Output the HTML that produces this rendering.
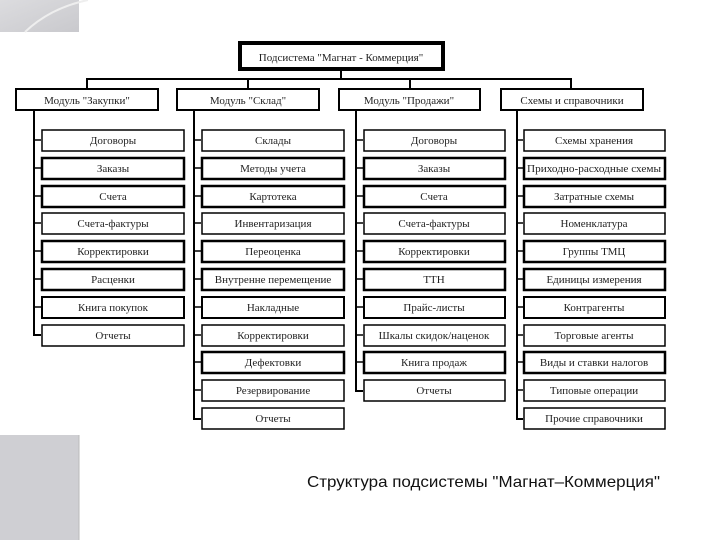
<!DOCTYPE html>
<html><head><meta charset="utf-8"><style>
html,body{margin:0;padding:0;background:#fff;width:720px;height:540px;overflow:hidden}
svg text{font-family:"Liberation Serif","Noto Serif CJK SC",serif;font-size:11px;fill:#222}
</style></head><body>
<svg width="720" height="540" viewBox="0 0 720 540" xmlns="http://www.w3.org/2000/svg">
<defs><linearGradient id="g" x1="0" y1="0" x2="1" y2="1"><stop offset="0" stop-color="#dcdcdf"/><stop offset="1" stop-color="#c9c9cd"/></linearGradient></defs>
<rect x="0" y="0" width="79" height="32" fill="url(#g)"/>
<path d="M25 32 Q50 8 88 0" stroke="#eee" stroke-width="2" fill="none"/>
<rect x="0" y="435" width="79" height="105" fill="#cfcfd3"/>
<line x1="79" y1="435" x2="79" y2="540" stroke="#bbb" stroke-width="1"/>

<g stroke="#000" fill="none">
<rect x="240" y="43" width="203" height="26" stroke-width="4" fill="#fff"/>
<line x1="341" y1="70" x2="341" y2="79" stroke-width="2"/>
<line x1="86" y1="79" x2="572" y2="79" stroke-width="2"/>
<line x1="87" y1="79" x2="87" y2="89" stroke-width="2"/>
<line x1="248" y1="79" x2="248" y2="89" stroke-width="2"/>
<line x1="410" y1="79" x2="410" y2="89" stroke-width="2"/>
<line x1="571" y1="79" x2="571" y2="89" stroke-width="2"/>
<g stroke-width="2" fill="#fff">
<rect x="16" y="89" width="142" height="21"/>
<rect x="177" y="89" width="142" height="21"/>
<rect x="339" y="89" width="141" height="21"/>
<rect x="501" y="89" width="142" height="21"/>
</g>
<g stroke-width="2">
<polyline points="34,110 34,335 41,335"/>
<polyline points="194,110 194,419 201,419"/>
<polyline points="356,110 356,391 363,391"/>
<polyline points="517,110 517,419 523,419"/>
</g>
<g stroke-width="1.5">
<path d="M34 140h7M34 168h7M34 196h7M34 223h7M34 251h7M34 279h7M34 307h7"/>
<path d="M194 140h7M194 168h7M194 196h7M194 223h7M194 251h7M194 279h7M194 307h7M194 335h7M194 362h7M194 390h7"/>
<path d="M356 140h7M356 168h7M356 196h7M356 223h7M356 251h7M356 279h7M356 307h7M356 335h7M356 362h7"/>
<path d="M517 140h6M517 168h6M517 196h6M517 223h6M517 251h6M517 279h6M517 307h6M517 335h6M517 362h6M517 390h6"/>
</g>
<g fill="#fff">
<!-- col1 -->
<rect x="42" y="130" width="142" height="21" stroke-width="1.5"/>
<rect x="42" y="158" width="142" height="21" stroke-width="2.5"/>
<rect x="42" y="186" width="142" height="21" stroke-width="2.5"/>
<rect x="42" y="213" width="142" height="21" stroke-width="1.5"/>
<rect x="42" y="241" width="142" height="21" stroke-width="2.5"/>
<rect x="42" y="269" width="142" height="21" stroke-width="2.5"/>
<rect x="42" y="297" width="142" height="21" stroke-width="2"/>
<rect x="42" y="325" width="142" height="21" stroke-width="1.5"/>
<!-- col2 -->
<rect x="202" y="130" width="142" height="21" stroke-width="1.5"/>
<rect x="202" y="158" width="142" height="21" stroke-width="2.5"/>
<rect x="202" y="186" width="142" height="21" stroke-width="2.5"/>
<rect x="202" y="213" width="142" height="21" stroke-width="1.5"/>
<rect x="202" y="241" width="142" height="21" stroke-width="2.5"/>
<rect x="202" y="269" width="142" height="21" stroke-width="2.5"/>
<rect x="202" y="297" width="142" height="21" stroke-width="2"/>
<rect x="202" y="325" width="142" height="21" stroke-width="1.5"/>
<rect x="202" y="352" width="142" height="21" stroke-width="2.5"/>
<rect x="202" y="380" width="142" height="21" stroke-width="1.5"/>
<rect x="202" y="408" width="142" height="21" stroke-width="1.5"/>
<!-- col3 -->
<rect x="364" y="130" width="141" height="21" stroke-width="1.5"/>
<rect x="364" y="158" width="141" height="21" stroke-width="2.5"/>
<rect x="364" y="186" width="141" height="21" stroke-width="2.5"/>
<rect x="364" y="213" width="141" height="21" stroke-width="1.5"/>
<rect x="364" y="241" width="141" height="21" stroke-width="2.5"/>
<rect x="364" y="269" width="141" height="21" stroke-width="2.5"/>
<rect x="364" y="297" width="141" height="21" stroke-width="2"/>
<rect x="364" y="325" width="141" height="21" stroke-width="1.5"/>
<rect x="364" y="352" width="141" height="21" stroke-width="2.5"/>
<rect x="364" y="380" width="141" height="21" stroke-width="1.5"/>
<!-- col4 -->
<rect x="524" y="130" width="141" height="21" stroke-width="1.5"/>
<rect x="524" y="158" width="141" height="21" stroke-width="2.5"/>
<rect x="524" y="186" width="141" height="21" stroke-width="2.5"/>
<rect x="524" y="213" width="141" height="21" stroke-width="1.5"/>
<rect x="524" y="241" width="141" height="21" stroke-width="2.5"/>
<rect x="524" y="269" width="141" height="21" stroke-width="2.5"/>
<rect x="524" y="297" width="141" height="21" stroke-width="2"/>
<rect x="524" y="325" width="141" height="21" stroke-width="1.5"/>
<rect x="524" y="352" width="141" height="21" stroke-width="2.5"/>
<rect x="524" y="380" width="141" height="21" stroke-width="1.5"/>
<rect x="524" y="408" width="141" height="21" stroke-width="1.5"/>
</g>
</g>

<g text-anchor="middle">
<text x="341" y="61" font-size="12">Подсистема "Магнат - Коммерция"</text>
<text x="87" y="104" font-size="12">Модуль "Закупки"</text>
<text x="248" y="104" font-size="12">Модуль "Склад"</text>
<text x="409" y="104" font-size="12">Модуль "Продажи"</text>
<text x="572" y="104" font-size="12">Схемы и справочники</text>

<g transform="translate(113,0)">
<text y="144">Договоры</text><text y="172">Заказы</text><text y="200">Счета</text><text y="227">Счета-фактуры</text><text y="255">Корректировки</text><text y="283">Расценки</text><text y="311">Книга покупок</text><text y="339">Отчеты</text>
</g>
<g transform="translate(273,0)">
<text y="144">Склады</text><text y="172">Методы учета</text><text y="200">Картотека</text><text y="227">Инвентаризация</text><text y="255">Переоценка</text><text y="283">Внутренне перемещение</text><text y="311">Накладные</text><text y="339">Корректировки</text><text y="366">Дефектовки</text><text y="394">Резервирование</text><text y="422">Отчеты</text>
</g>
<g transform="translate(434,0)">
<text y="144">Договоры</text><text y="172">Заказы</text><text y="200">Счета</text><text y="227">Счета-фактуры</text><text y="255">Корректировки</text><text y="283">ТТН</text><text y="311">Прайс-листы</text><text y="339">Шкалы скидок/наценок</text><text y="366">Книга продаж</text><text y="394">Отчеты</text>
</g>
<g transform="translate(594,0)">
<text y="144">Схемы хранения</text><text y="172" textLength="134" lengthAdjust="spacingAndGlyphs">Приходно-расходные схемы</text><text y="200">Затратные схемы</text><text y="227">Номенклатура</text><text y="255">Группы ТМЦ</text><text y="283">Единицы измерения</text><text y="311">Контрагенты</text><text y="339">Торговые агенты</text><text y="366">Виды и ставки налогов</text><text y="394">Типовые операции</text><text y="422">Прочие справочники</text>
</g>
</g>
<text x="307" y="487" style="font-family:'Liberation Sans',sans-serif;font-size:16px;fill:#111" textLength="353" lengthAdjust="spacingAndGlyphs">Структура подсистемы "Магнат–Коммерция"</text>
</svg>
</body></html>
